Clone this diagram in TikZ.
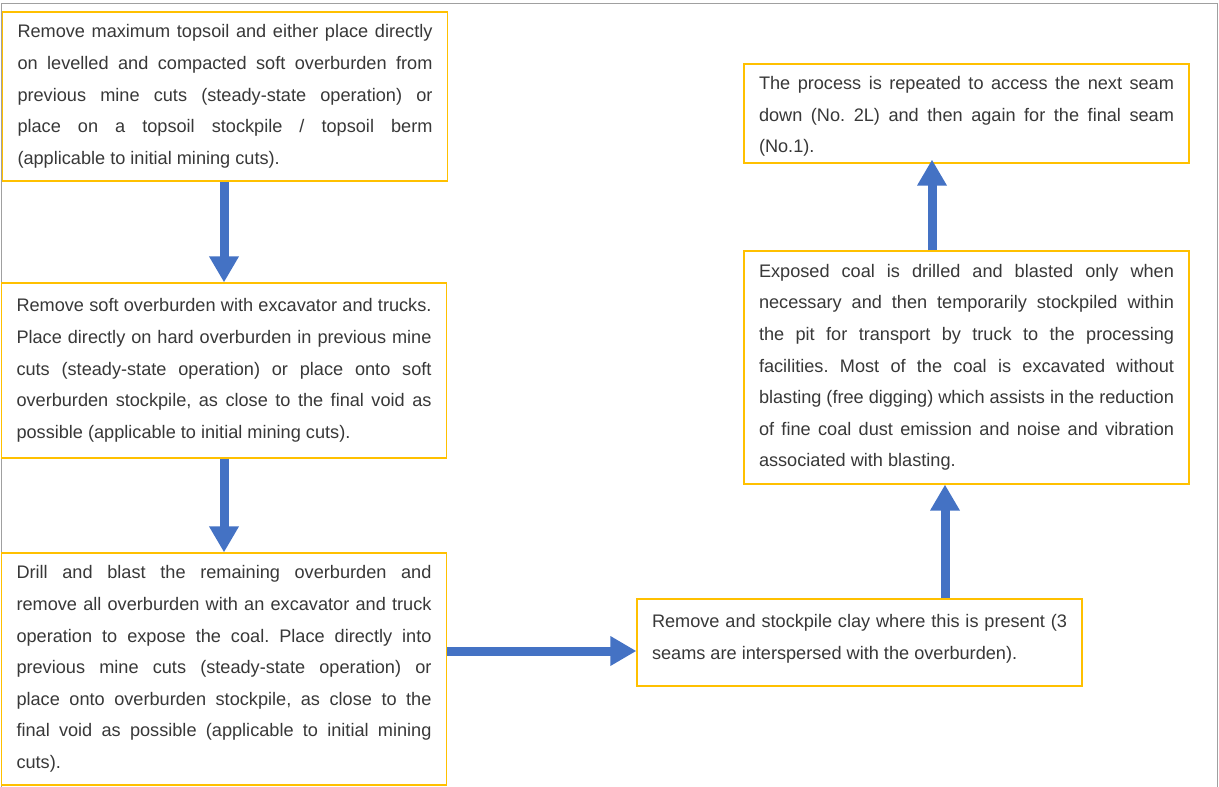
\documentclass[tikz,border=0pt]{standalone}
\usepackage{fontspec}
\setmainfont{Liberation Sans}
\usetikzlibrary{arrows.meta}
\definecolor{boxgold}{HTML}{FFC000}
\definecolor{arrowblue}{HTML}{4472C4}
\definecolor{txtgray}{HTML}{383838}
\definecolor{framegray}{HTML}{A0A0A0}
\frenchspacing
\begin{document}
\begin{tikzpicture}[x=1pt,y=-1pt,
  stepbox/.style={draw=boxgold, line width=1.2pt, fill=white, text=txtgray,
    text width=415pt, inner xsep=15pt, inner ysep=0pt, align=justify,
    font=\fontsize{18.15}{31.6}\selectfont,
    execute at begin node={\frenchspacing\hyphenpenalty=10000\exhyphenpenalty=10000\tolerance=10000},
    anchor=center},
  flow/.style={draw=arrowblue, line width=9pt, -{Triangle[width=28pt,length=26pt]}}]
\useasboundingbox (0,0) rectangle (1219,787);
\draw[framegray, line width=1pt] (1,790) -- (1,3) -- (1217,3) -- (1217,790);

\node[stepbox, minimum height=169pt] (b1) at (225,96.5) {Remove maximum topsoil and either place directly\linebreak on levelled and compacted soft overburden from\linebreak previous mine cuts (steady-state operation) or\linebreak place on a topsoil stockpile / topsoil berm\linebreak (applicable to initial mining cuts).};

\node[stepbox, minimum height=175pt] (b2) at (224,370.5) {Remove soft overburden with excavator and trucks.\linebreak Place directly on hard overburden in previous mine\linebreak cuts (steady-state operation) or place onto soft\linebreak overburden stockpile, as close to the final void as\linebreak possible (applicable to initial mining cuts).};

\node[stepbox, minimum height=232pt] (b3) at (224,669) {Drill and blast the remaining overburden and\linebreak remove all overburden with an excavator and truck\linebreak operation to expose the coal. Place directly into\linebreak previous mine cuts (steady-state operation) or\linebreak place onto overburden stockpile, as close to the\linebreak final void as possible (applicable to initial mining\linebreak cuts).};

\node[stepbox, minimum height=87pt] (b4) at (859.5,642.5) {Remove and stockpile clay where this is present (3\linebreak seams are interspersed with the overburden).\par\vspace{7pt}};

\node[stepbox, minimum height=233pt] (b5) at (966.5,367.5) {Exposed coal is drilled and blasted only when\linebreak necessary and then temporarily stockpiled within\linebreak the pit for transport by truck to the processing\linebreak facilities. Most of the coal is excavated without\linebreak blasting (free digging) which assists in the reduction\linebreak of fine coal dust emission and noise and vibration\linebreak associated with blasting.};

\node[stepbox, minimum height=99pt] (b6) at (966.5,113.5) {The process is repeated to access the next seam\linebreak down (No. 2L) and then again for the final seam\linebreak (No.1).\par\vspace{-6pt}};

\coordinate (a1) at ([xshift=-1pt]b1.south);
\coordinate (a3) at ([yshift=-8.5pt]b4.west);
\coordinate (a4) at ([xshift=-21.5pt]b5.south);
\coordinate (a5) at ([xshift=-34.5pt]b5.north);

\draw[flow] (a1) -- (a1 |- b2.north);
\draw[flow] (b2.south) -- (b2.south |- b3.north);
\draw[flow] (a3 -| b3.east) -- (a3);
\draw[flow] (a4 |- b4.north) -- (a4);
\draw[flow] (a5) -- ([yshift=4pt]a5 |- b6.south);
\end{tikzpicture}
\end{document}
